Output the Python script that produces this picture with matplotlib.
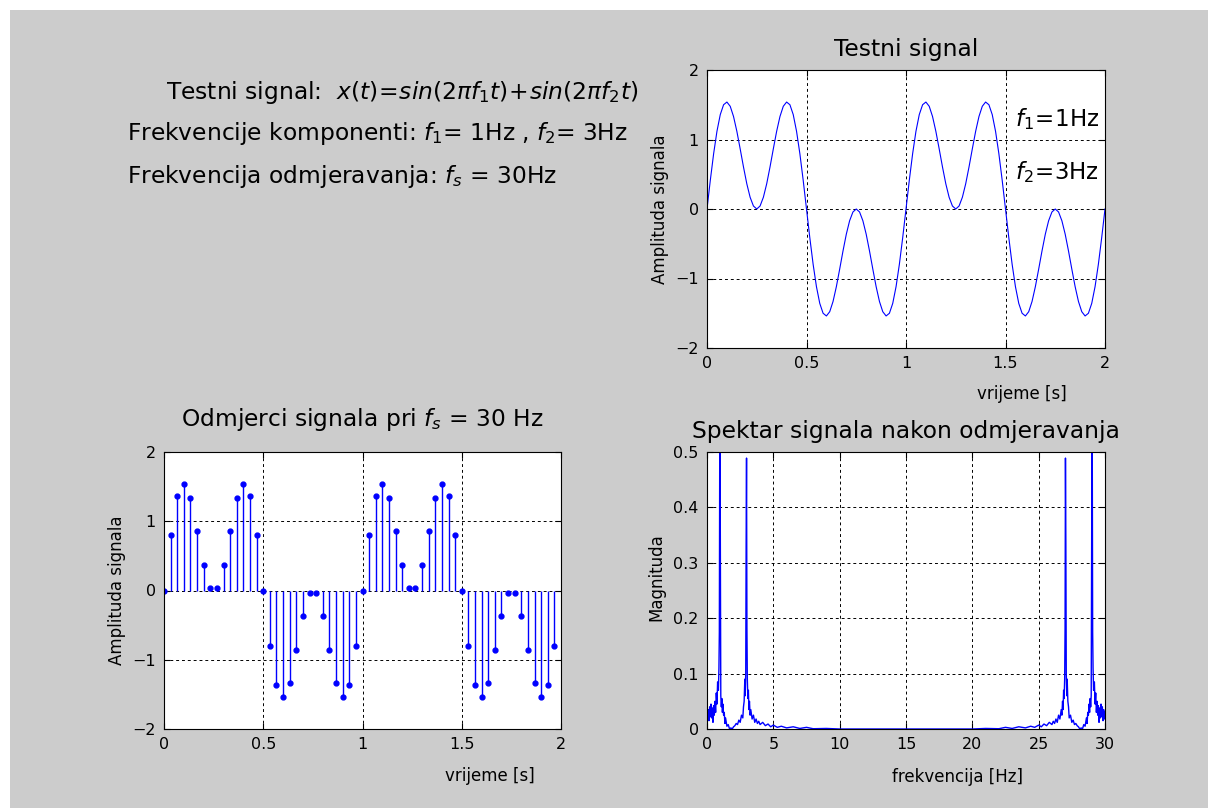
import numpy as np
import matplotlib
matplotlib.use("Agg")
import matplotlib.pyplot as plt
from matplotlib.patches import Rectangle

#--- Data ---#

# sampling frequency of the stem plot [Hz] and step of the drawn curve [Hz]
fs = 30
fc = 60

# one period (1 s) of the test signal, read every 1/60 s
curve_period = [0.0, 0.414, 0.796, 1.118, 1.358, 1.5, 1.539, 1.478, 1.331, 1.118,
                0.866, 0.605, 0.363, 0.169, 0.043, 0.0, 0.043, 0.169, 0.363, 0.605,
                0.866, 1.118, 1.331, 1.478, 1.539, 1.5, 1.358, 1.118, 0.796, 0.414,
                0.0, -0.414, -0.796, -1.118, -1.358, -1.5, -1.539, -1.478, -1.331, -1.118,
                -0.866, -0.605, -0.363, -0.169, -0.043, 0.0, -0.043, -0.169, -0.363, -0.605,
                -0.866, -1.118, -1.331, -1.478, -1.539, -1.5, -1.358, -1.118, -0.796, -0.414]

# one period of the samples at fs = 30 Hz
samples_period = [0.0, 0.796, 1.358, 1.539, 1.331, 0.866, 0.363, 0.043, 0.043, 0.363,
                  0.866, 1.331, 1.539, 1.358, 0.796, 0.0, -0.796, -1.358, -1.539, -1.331,
                  -0.866, -0.363, -0.043, -0.043, -0.363, -0.866, -1.331, -1.539, -1.358, -0.796]

# magnitude spectrum, 0..15 Hz (the rest is its mirror image about 15 Hz)
spec_f = [0.00, 0.05, 0.10, 0.15, 0.20, 0.25, 0.30, 0.35, 0.40, 0.45,
          0.50, 0.55, 0.60, 0.65, 0.70, 0.75, 0.80, 0.86, 0.90, 0.93,
          0.965, 1.00, 1.04, 1.08, 1.12, 1.16, 1.20, 1.25, 1.30, 1.35,
          1.40, 1.50, 1.60, 1.70, 1.80, 1.90, 2.00, 2.10, 2.20, 2.30,
          2.40, 2.50, 2.60, 2.70, 2.75, 2.80, 2.85, 2.88, 2.92, 2.95,
          2.98, 3.01, 3.04, 3.08, 3.12, 3.16, 3.20, 3.25, 3.30, 3.40,
          3.50, 3.60, 3.70, 3.80, 3.90, 4.00, 4.20, 4.40, 4.60, 4.80,
          5.00, 5.30, 5.60, 6.00, 6.50, 7.00, 7.50, 8.00, 9.00, 10.0, 15.0]
spec_m = [0.030, 0.018, 0.035, 0.015, 0.040, 0.022, 0.045, 0.020, 0.038, 0.012,
          0.042, 0.025, 0.050, 0.030, 0.065, 0.045, 0.085, 0.070, 0.110, 0.174,
          0.560, 0.385, 0.060, 0.040, 0.055, 0.030, 0.045, 0.025, 0.030, 0.010,
          0.020, 0.005, 0.008, 0.000, 0.002, 0.000, 0.004, 0.006, 0.010, 0.008,
          0.016, 0.012, 0.025, 0.020, 0.040, 0.050, 0.090, 0.060, 0.100, 0.334,
          0.489, 0.182, 0.090, 0.055, 0.070, 0.035, 0.050, 0.025, 0.035, 0.018,
          0.025, 0.012, 0.018, 0.010, 0.014, 0.008, 0.012, 0.006, 0.009, 0.004,
          0.007, 0.003, 0.005, 0.002, 0.004, 0.001, 0.003, 0.0005, 0.001, 0.0, 0.0]
f_max = 30

sig_ticks = [-2, -1, 0, 1, 2]
t_ticks = [0, 0.5, 1, 1.5, 2]
f_ticks = [0, 5, 10, 15, 20, 25, 30]
m_ticks = [0, 0.1, 0.2, 0.3, 0.4, 0.5]

#--- Build series ---#
curve = np.concatenate([curve_period, curve_period, [0.0]])
t_curve = np.arange(len(curve)) / fc
samples = np.concatenate([samples_period, samples_period])
t_samples = np.arange(len(samples)) / fs
spec_f = np.array(spec_f)
spec_m = np.array(spec_m)
freq = np.concatenate([spec_f, f_max - spec_f[::-1]])
mag = np.concatenate([spec_m, spec_m[::-1]])

#--- Figure ---#
W, H = 1208, 808
fig = plt.figure(figsize=(W / 100, H / 100), dpi=100, facecolor='white')
fig.patches.append(Rectangle((10 / W, 0), 1, 1 - 10 / H, transform=fig.transFigure,
                             facecolor='#cccccc', edgecolor='none', zorder=-10))

def rect(x0, y0, x1, y1):
    return [x0 / W, 1 - y1 / H, (x1 - x0) / W, (y1 - y0) / H]

def style(ax):
    ax.set_facecolor('white')
    for s in ax.spines.values():
        s.set_linewidth(0.8)
    ax.tick_params(direction='in', length=4, top=True, right=True, labelsize=11.5, pad=6)
    ax.grid(True, color='k', linestyle=(0, (3, 3)), linewidth=0.7)

blue = '#0000ff'

# top-left text
fig.text(166 / W, 1 - 99 / H,
         r'Testni signal:  $x(t)\!=\!sin(2\pi f_1t)\!+\!sin(2\pi f_2t)$',
         fontsize=16.8, va='baseline')
fig.text(127 / W, 1 - 140 / H, r'Frekvencije komponenti: $f_1$= 1Hz , $f_2$= 3Hz',
         fontsize=16.8, va='baseline')
fig.text(127 / W, 1 - 183 / H, r'Frekvencija odmjeravanja: $f_s$ = 30Hz',
         fontsize=16.8, va='baseline')

# test signal
ax1 = fig.add_axes(rect(707, 70, 1105, 348))
style(ax1)
ax1.plot(t_curve, curve, color=blue, lw=0.8)
ax1.set_xlim(0, 2)
ax1.set_ylim(-2, 2)
ax1.set_xticks(t_ticks)
ax1.set_yticks(sig_ticks)
ax1.set_xticklabels(['0', '0.5', '1', '1.5', '2'])
ax1.set_title('Testni signal', fontsize=16.8, pad=10)
ax1.set_xlabel('vrijeme [s]', fontsize=12)
ax1.set_ylabel('Amplituda signala', fontsize=12)
ax1.xaxis.set_label_coords(0.79, -0.133)
ax1.yaxis.set_label_coords(-0.095, 0.5)
ax1.text(1.55, 1.19, r'$f_1\!=\!$1Hz', fontsize=16.5, va='baseline')
ax1.text(1.55, 0.43, r'$f_2\!=\!$3Hz', fontsize=16.5, va='baseline')

# samples
ax2 = fig.add_axes(rect(164, 452, 561, 729))
style(ax2)
ax2.vlines(t_samples, 0, samples, color=blue, lw=1.0)
ax2.plot(t_samples, samples, 'o', color=blue, ms=3.5)
ax2.set_xlim(0, 2)
ax2.set_ylim(-2, 2)
ax2.set_xticks(t_ticks)
ax2.set_yticks(sig_ticks)
ax2.set_xticklabels(['0', '0.5', '1', '1.5', '2'])
ax2.set_title(r'Odmjerci signala pri $f_s$ = 30 Hz', fontsize=16.8, pad=19)
ax2.set_xlabel('vrijeme [s]', fontsize=12)
ax2.set_ylabel('Amplituda signala', fontsize=12)
ax2.xaxis.set_label_coords(0.82, -0.137)
ax2.yaxis.set_label_coords(-0.095, 0.5)

# spectrum
ax3 = fig.add_axes(rect(707, 452, 1105, 729))
style(ax3)
ax3.plot(freq, mag, color=blue, lw=1.0)
ax3.set_xlim(0, f_max)
ax3.set_ylim(0, 0.5)
ax3.set_xticks(f_ticks)
ax3.set_yticks(m_ticks)
ax3.set_yticklabels(['0', '0.1', '0.2', '0.3', '0.4', '0.5'])
ax3.set_title('Spektar signala nakon odmjeravanja', fontsize=16.8, pad=10)
ax3.set_xlabel('frekvencija [Hz]', fontsize=12)
ax3.set_ylabel('Magnituda', fontsize=12)
ax3.xaxis.set_label_coords(0.63, -0.14)
ax3.yaxis.set_label_coords(-0.105, 0.55)

plt.savefig('out.png', dpi=100, facecolor=fig.get_facecolor())
